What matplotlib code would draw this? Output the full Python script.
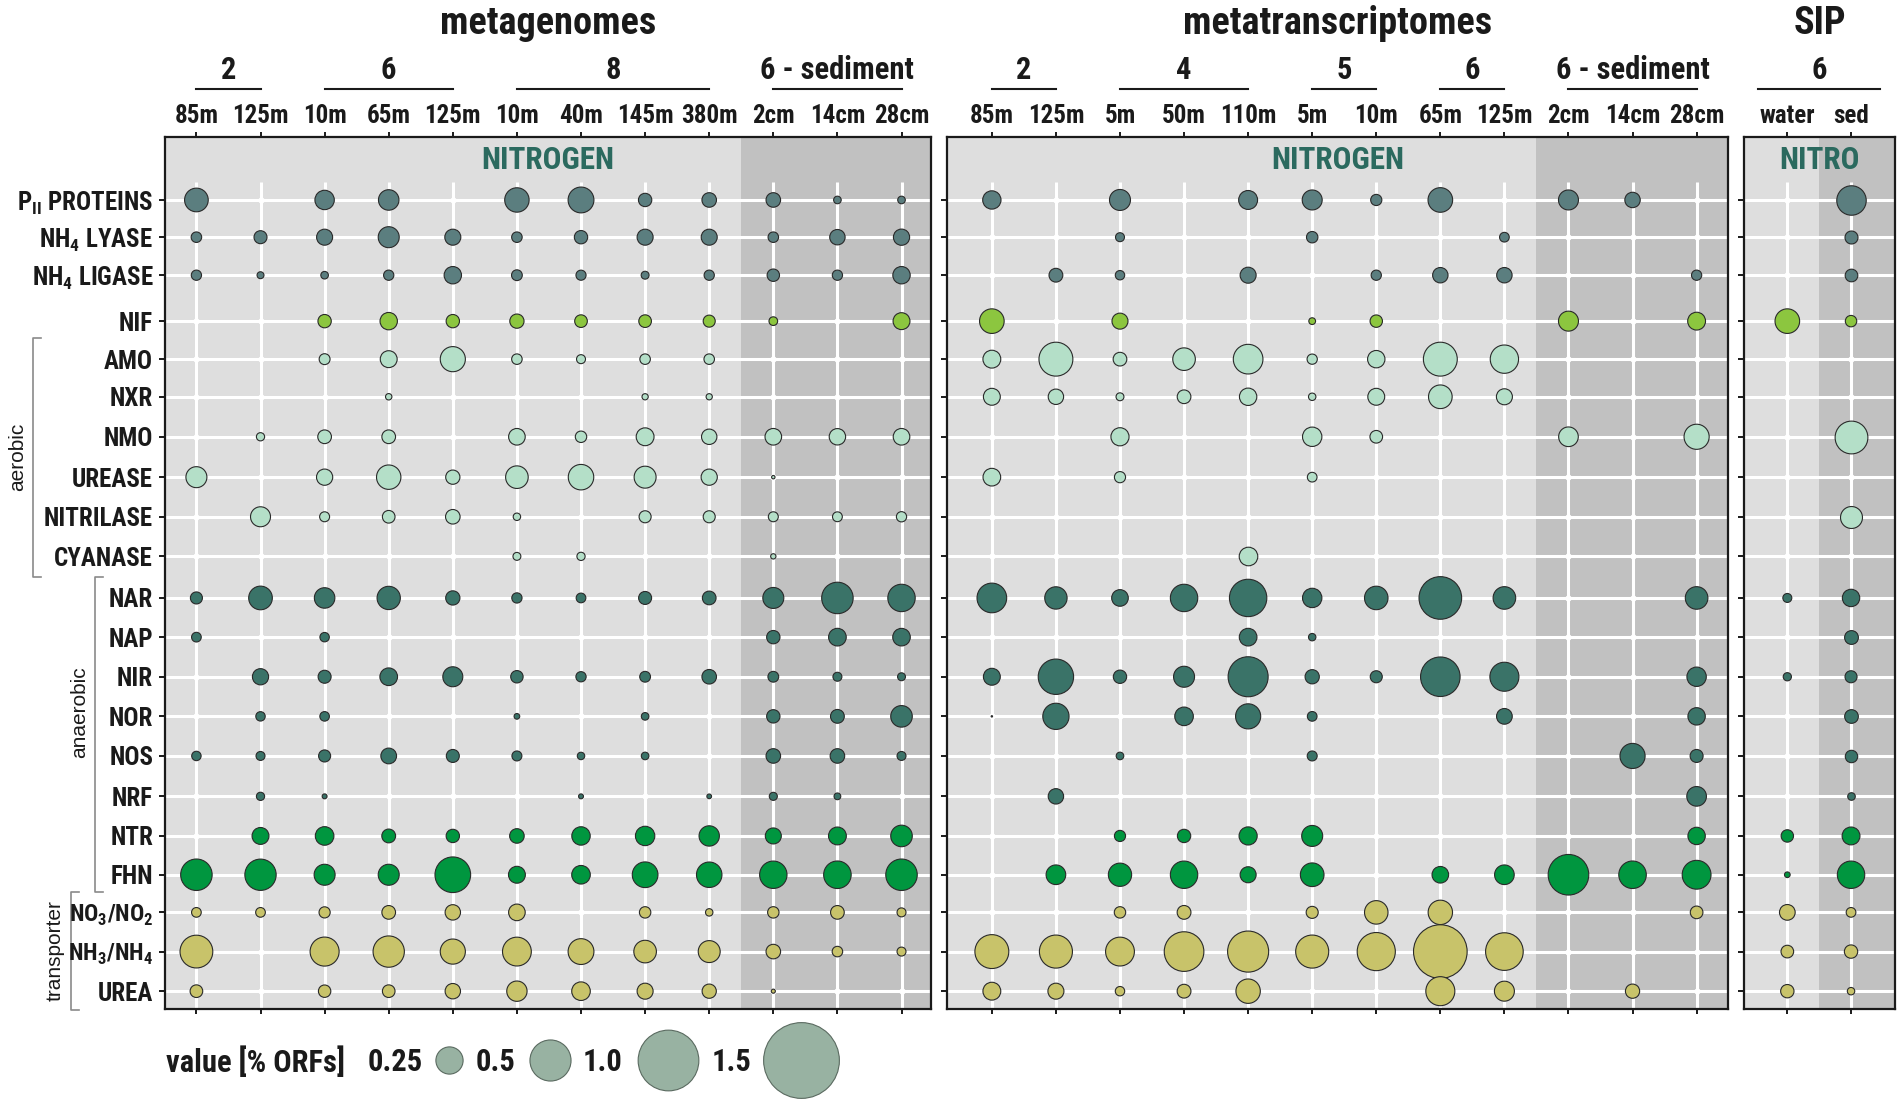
import numpy as np
import matplotlib
matplotlib.use('Agg')
import matplotlib.pyplot as plt
from matplotlib import transforms
from matplotlib.lines import Line2D
from matplotlib import font_manager

W, H, DPI = 1902, 1108, 100

names = {f.name for f in font_manager.fontManager.ttflist}
NARROW = ['Liberation Sans Narrow', 'DejaVu Sans'] if 'Liberation Sans Narrow' in names else ['Roboto Condensed', 'Liberation Sans', 'DejaVu Sans']
plt.rcParams['font.family'] = NARROW
plt.rcParams['font.weight'] = 'bold'

# rows (genes) and their colours
rows = [r'P$_{\mathregular{II}}$ PROTEINS', r'NH$_{\mathregular{4}}$ LYASE', r'NH$_{\mathregular{4}}$ LIGASE',
        'NIF', 'AMO', 'NXR', 'NMO', 'UREASE', 'NITRILASE', 'CYANASE',
        'NAR', 'NAP', 'NIR', 'NOR', 'NOS', 'NRF', 'NTR', 'FHN',
        r'NO$_{\mathregular{3}}$/NO$_{\mathregular{2}}$', r'NH$_{\mathregular{3}}$/NH$_{\mathregular{4}}$', 'UREA']
row_pos = [0, 0.94, 1.9, 3.06, 4.02, 4.97, 5.98, 7.0, 8.0, 9.0,
           10.05, 11.04, 12.04, 13.04, 14.04, 15.06, 16.06, 17.04, 17.99, 18.98, 19.98]
slate, lime, mint, teal, green, khaki = '#5b7e7f', '#8cc63f', '#b4dfc8', '#3a7368', '#00963f', '#c8c36a'
row_colors = [slate] * 3 + [lime] + [mint] * 6 + [teal] * 6 + [green] * 2 + [khaki] * 3

# metagenomes
mg_cols = ['85m', '125m', '10m', '65m', '125m', '10m', '40m', '145m', '380m', '2cm', '14cm', '28cm']
mg_groups = [('2', 0, 1), ('6', 2, 4), ('8', 5, 8), ('6 - sediment', 9, 11)]
mg_vals = [
    [0.20, 0, 0.147, 0.16, 0, 0.21, 0.23, 0.086, 0.097, 0.097, 0.043, 0.043],
    [0.063, 0.083, 0.111, 0.166, 0.111, 0.063, 0.086, 0.111, 0.111, 0.063, 0.105, 0.113],
    [0.061, 0.039, 0.043, 0.061, 0.125, 0.065, 0.06, 0.045, 0.061, 0.078, 0.061, 0.125],
    [0, 0, 0.086, 0.125, 0.086, 0.094, 0.08, 0.08, 0.075, 0.05, 0, 0.12],
    [0, 0, 0.066, 0.12, 0.22, 0.063, 0.052, 0.063, 0.063, 0, 0, 0],
    [0, 0, 0, 0.036, 0, 0, 0, 0.035, 0.035, 0, 0, 0],
    [0, 0.047, 0.089, 0.089, 0, 0.117, 0.07, 0.13, 0.105, 0.117, 0.115, 0.117],
    [0.166, 0, 0.113, 0.21, 0.094, 0.186, 0.225, 0.178, 0.113, 0.021, 0, 0],
    [0, 0.154, 0.059, 0.08, 0.097, 0.042, 0, 0.075, 0.075, 0.059, 0.058, 0.061],
    [0, 0, 0, 0, 0, 0.045, 0.047, 0, 0, 0.03, 0, 0],
    [0.075, 0.2, 0.16, 0.195, 0.094, 0.061, 0.057, 0.083, 0.089, 0.166, 0.318, 0.253],
    [0.057, 0, 0.055, 0, 0, 0, 0, 0, 0, 0.086, 0.128, 0.127],
    [0, 0.113, 0.083, 0.128, 0.154, 0.078, 0.061, 0.065, 0.097, 0.065, 0.052, 0.045],
    [0, 0.055, 0.056, 0, 0, 0.032, 0, 0.043, 0, 0.086, 0.09, 0.173],
    [0.055, 0.052, 0.075, 0.108, 0.083, 0.059, 0.042, 0.043, 0, 0.097, 0.097, 0.052],
    [0, 0.047, 0.028, 0, 0, 0, 0.028, 0, 0.027, 0.046, 0.038, 0],
    [0, 0.12, 0.138, 0.09, 0.086, 0.097, 0.136, 0.147, 0.158, 0.111, 0.13, 0.173],
    [0.318, 0.315, 0.166, 0.166, 0.392, 0.12, 0.138, 0.228, 0.225, 0.253, 0.255, 0.318],
    [0.057, 0.057, 0.068, 0.089, 0.105, 0.117, 0, 0.07, 0.042, 0.07, 0.089, 0.052],
    [0.34, 0, 0.278, 0.315, 0.22, 0.275, 0.23, 0.186, 0.178, 0.097, 0.063, 0.052],
    [0.08, 0, 0.078, 0.08, 0.105, 0.158, 0.138, 0.111, 0.094, 0.024, 0, 0],
]

# metatranscriptomes
mt_cols = ['85m', '125m', '5m', '50m', '110m', '5m', '10m', '65m', '125m', '2cm', '14cm', '28cm']
mt_groups = [('2', 0, 1), ('4', 2, 4), ('5', 5, 6), ('6', 7, 8), ('6 - sediment', 9, 11)]
mt_vals = [
    [0.135, 0, 0.166, 0, 0.142, 0.154, 0.068, 0.213, 0, 0.154, 0.105, 0],
    [0, 0, 0.052, 0, 0, 0.07, 0, 0, 0.057, 0, 0, 0],
    [0, 0.09, 0.055, 0, 0.111, 0, 0.061, 0.105, 0.105, 0, 0, 0.061],
    [0.213, 0, 0.111, 0, 0, 0.038, 0.078, 0, 0, 0.154, 0, 0.13],
    [0.13, 0.36, 0.089, 0.186, 0.288, 0.061, 0.125, 0.36, 0.267, 0, 0, 0],
    [0.12, 0.105, 0.045, 0.089, 0.125, 0.042, 0.12, 0.2, 0.111, 0, 0, 0],
    [0, 0, 0.133, 0, 0, 0.147, 0.08, 0, 0, 0.15, 0, 0.22],
    [0.128, 0, 0.068, 0, 0, 0.057, 0, 0, 0, 0, 0, 0],
    [0, 0, 0, 0, 0, 0, 0, 0, 0, 0, 0, 0],
    [0, 0, 0, 0, 0.138, 0, 0, 0, 0, 0, 0, 0],
    [0.288, 0.183, 0.117, 0.253, 0.425, 0.147, 0.198, 0.533, 0.186, 0, 0, 0.186],
    [0, 0, 0, 0, 0.128, 0.042, 0, 0, 0, 0, 0, 0],
    [0.12, 0.387, 0.086, 0.166, 0.478, 0.094, 0.075, 0.468, 0.278, 0, 0, 0.147],
    [0.012, 0.236, 0, 0.138, 0.22, 0.057, 0, 0, 0.108, 0, 0, 0.125],
    [0, 0, 0.043, 0, 0, 0.059, 0, 0, 0, 0, 0.22, 0.083],
    [0, 0.105, 0, 0, 0, 0, 0, 0, 0, 0, 0, 0.15],
    [0, 0, 0.068, 0.086, 0.133, 0.166, 0, 0, 0, 0, 0, 0.125],
    [0, 0.15, 0.195, 0.253, 0.111, 0.2, 0, 0.117, 0.15, 0.49, 0.255, 0.275],
    [0, 0, 0.07, 0.09, 0, 0.075, 0.198, 0.21, 0, 0, 0, 0.08],
    [0.36, 0.345, 0.275, 0.47, 0.5, 0.345, 0.44, 0.8, 0.43, 0, 0, 0],
    [0.13, 0.111, 0.055, 0.09, 0.21, 0, 0, 0.278, 0.154, 0, 0.094, 0],
]

# SIP
sip_cols = ['water', 'sed']
sip_groups = [('6', 0, 1)]
sip_vals = [
    [0, 0.285], [0, 0.083], [0, 0.08], [0.213, 0.07], [0, 0], [0, 0], [0, 0.34],
    [0, 0], [0, 0.178], [0, 0], [0.052, 0.125], [0, 0.09], [0.047, 0.075],
    [0, 0.089], [0, 0.078], [0, 0.043], [0.078, 0.13], [0.032, 0.253],
    [0.108, 0.057], [0.08, 0.086], [0.086, 0.042],
]

legend_vals = [0.25, 0.5, 1.0, 1.5]
legend_labels = ['0.25', '0.5', '1.0', '1.5']


def marker_area(v):
    # circle radius in pixels grows with sqrt(value)
    r = np.clip(33.5 * np.sqrt(np.asarray(v, float)) - 3.15, 0.7, None)
    return (2 * r * 72 / DPI) ** 2


fig = plt.figure(figsize=(W / DPI, H / DPI), dpi=DPI)
TOP, BOT = 137, 1009
YLIM = (20.43, -1.59)
INK = '#1a1a1a'


def panel(left, right, xlim, cols, groups, vals, shade_from, title, strip, ylabels, gpad=0.0):
    ax = fig.add_axes([left / W, 1 - BOT / H, (right - left) / W, (BOT - TOP) / H])
    ax.set_facecolor('#dedede')
    ax.set_xlim(*xlim)
    ax.set_ylim(*YLIM)
    ax.axvspan(shade_from, xlim[1], color='#c1c1c1', lw=0, zorder=0)
    xs = np.arange(len(cols))
    for y in row_pos:
        ax.axhline(y, color='white', lw=2.2, zorder=1)
    ax.vlines(xs, -0.45, YLIM[0], color='white', lw=2.2, zorder=1)
    gx, gy = np.meshgrid(xs, row_pos)
    ax.scatter(gx.ravel(), gy.ravel(), s=20, color='white', lw=0, zorder=2)
    arr = np.array(vals)
    for i, y in enumerate(row_pos):
        m = arr[i] > 0
        if m.any():
            ax.scatter(xs[m], np.full(m.sum(), y), s=marker_area(arr[i][m]),
                       color=row_colors[i], edgecolor='#2a2a2a', lw=0.8, zorder=3)
    ax.text(np.mean(xlim), -1.0, strip, color='#2b6a5f', fontsize=22.5,
            ha='center', va='center', zorder=4)

    ax.set_xticks(xs)
    ax.set_xticklabels(cols)
    ax.tick_params(axis='x', top=True, bottom=True, labeltop=True, labelbottom=False,
                   length=3.6, width=1.4, pad=3, labelsize=18, colors=INK)
    ax.set_yticks(row_pos)
    if ylabels:
        ax.set_yticklabels(rows)
    else:
        ax.set_yticklabels([])
    ax.tick_params(axis='y', left=True, length=4.5, width=1.4, pad=4, labelsize=18,
                   colors=INK)
    for sp in ax.spines.values():
        sp.set_linewidth(1.6)
        sp.set_color(INK)

    tr = transforms.blended_transform_factory(ax.transData, fig.transFigure)
    for label, a, b in groups:
        ax.text((a + b) / 2, 1 - 79 / H, label, transform=tr, ha='center',
                va='baseline', fontsize=22, color=INK)
        ax.add_line(Line2D([a - gpad, b + gpad], [1 - 89 / H] * 2, transform=tr,
                           color=INK, lw=1.5, clip_on=False))
    fig.text((left + right) / 2 / W, 1 - 34 / H, title, ha='center', va='baseline',
             fontsize=27.5, color=INK)
    return ax


ax1 = panel(165, 931, (-0.49, 11.46), mg_cols, mg_groups, mg_vals, 8.5, 'metagenomes', 'NITROGEN', True)
panel(947, 1728, (-0.70, 11.49), mt_cols, mt_groups, mt_vals, 8.5, 'metatranscriptomes', 'NITROGEN', False)
panel(1744, 1895, (-0.68, 1.69), sip_cols, sip_groups, sip_vals, 0.5, 'SIP', 'NITRO', False, gpad=0.46)

# the two transporter labels with subscripts sit tight against their bracket
for lbl in ax1.get_yticklabels()[18:20]:
    lbl.set_fontsize(17)

# overlay in pixel space for brackets and legend
ov = fig.add_axes([0, 0, 1, 1], zorder=-1)
ov.set_xlim(0, W)
ov.set_ylim(H, 0)
ov.axis('off')
for x, y0, y1, lab, ly, tx in [(33, 338, 577, 'aerobic', 457, 18),
                               (95, 577, 892, 'anaerobic', 712, 80),
                               (71, 892, 1010, 'transporter', 951, 55)]:
    ov.plot([x + 8, x, x, x + 8], [y0, y0, y1, y1], color='#8a8a8a', lw=1.2)
    ov.text(tx, ly, lab, rotation=90, ha='center', va='center', fontsize=15,
            fontweight='normal', family=['Liberation Sans', 'DejaVu Sans'], color=INK)

ov.text(166, 1062, 'value [% ORFs]', ha='left', va='center', fontsize=22, color=INK)
leg_label_x = [395, 496, 603, 732]
leg_circle_x = [449, 550, 668, 801]
for v, lab, lx, cx in zip(legend_vals, legend_labels, leg_label_x, leg_circle_x):
    ov.text(lx, 1062, lab, ha='center', va='center', fontsize=22, color=INK)
    ov.scatter([cx], [1060], s=marker_area(v), color='#98b2a2', edgecolor='#5a6a60', lw=0.8)

fig.savefig('out.png', dpi=DPI)
